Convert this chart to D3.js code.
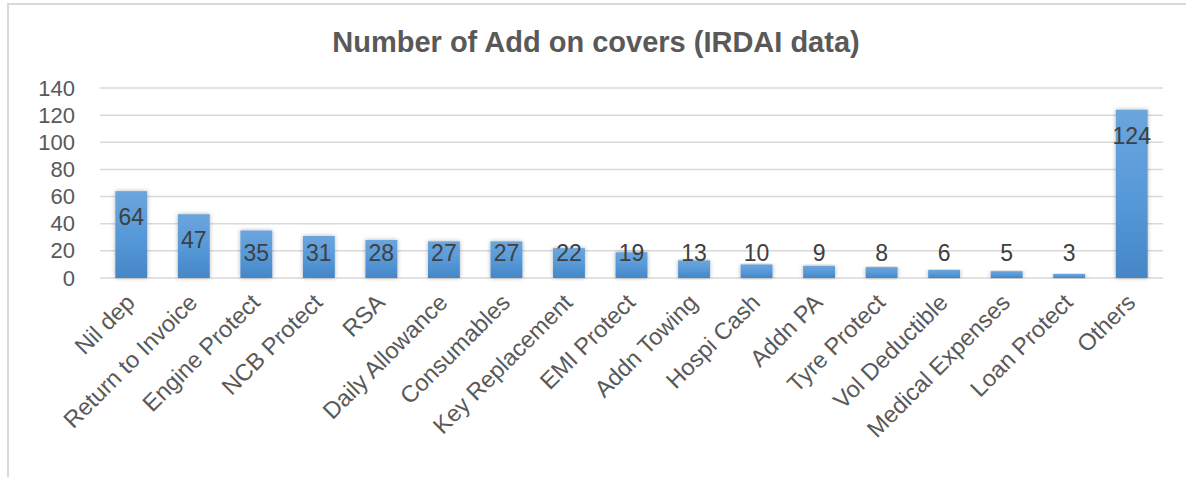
<!DOCTYPE html>
<html>
<head>
<meta charset="utf-8">
<script src="https://cdn.jsdelivr.net/npm/d3@7"></script>
<style>
  body { margin: 0; background: #fff; }
  svg { display: block; font-family: "Liberation Sans", Arial, sans-serif; }
</style>
</head>
<body>
<div id="chart"></div>
<script>
// Data
const covers = ['Nil dep', 'Return to Invoice', 'Engine Protect', 'NCB Protect', 'RSA',
  'Daily Allowance', 'Consumables', 'Key Replacement', 'EMI Protect', 'Addn Towing',
  'Hospi Cash', 'Addn PA', 'Tyre Protect', 'Vol Deductible', 'Medical Expenses',
  'Loan Protect', 'Others'];
const counts = [64, 47, 35, 31, 28, 27, 27, 22, 19, 13, 10, 9, 8, 6, 5, 3, 124];
const yTicks = [0, 20, 40, 60, 80, 100, 120, 140];

const width = 1186;
const height = 477;
const margin = { top: 88, right: 23, bottom: 199, left: 100 };

const svg = d3.select('#chart')
  .append('svg')
  .attr('width', width)
  .attr('height', height);

// Chart border (top + left visible)
svg.append('path')
  .attr('d', `M${width},4 H8 V${height}`)
  .attr('fill', 'none')
  .attr('stroke', '#d9d9d9')
  .attr('stroke-width', 2);

// Gradient + shadow for the bars
const defs = svg.append('defs');
const grad = defs.append('linearGradient')
  .attr('id', 'barGrad')
  .attr('x1', 0).attr('y1', 0).attr('x2', 0).attr('y2', 1);
grad.append('stop').attr('offset', '0%').attr('stop-color', '#6ca5dd');
grad.append('stop').attr('offset', '50%').attr('stop-color', '#579ad9');
grad.append('stop').attr('offset', '100%').attr('stop-color', '#4586c7');

const shadow = defs.append('filter')
  .attr('id', 'shadow')
  .attr('x', '-30%').attr('y', '-10%').attr('width', '160%').attr('height', '120%');
shadow.append('feDropShadow')
  .attr('dx', 0).attr('dy', 0).attr('stdDeviation', 2)
  .attr('flood-color', '#000').attr('flood-opacity', 0.3);

const xScale = d3.scaleBand()
  .domain(covers)
  .range([margin.left, width - margin.right])
  .paddingInner(0.49)
  .paddingOuter(0.245);

const yScale = d3.scaleLinear()
  .domain([0, 140])
  .range([height - margin.bottom, margin.top]);

// Gridlines
svg.append('g')
  .attr('class', 'gridlines')
  .selectAll('line')
  .data(yTicks)
  .join('line')
  .attr('x1', margin.left)
  .attr('x2', width - margin.right)
  .attr('y1', d => yScale(d))
  .attr('y2', d => yScale(d))
  .attr('stroke', '#d9d9d9')
  .attr('stroke-width', 1.5);

// Y axis labels
const yAxis = d3.axisLeft(yScale).tickValues(yTicks).tickSize(0).tickPadding(25);
const yG = svg.append('g')
  .attr('transform', `translate(${margin.left}, 0)`)
  .call(yAxis);
yG.select('.domain').remove();
yG.selectAll('text')
  .attr('font-size', 22)
  .attr('font-family', '"Liberation Sans", Arial, sans-serif')
  .attr('fill', '#595959');

// Bars
svg.append('g')
  .selectAll('rect')
  .data(counts)
  .join('rect')
  .attr('x', (d, i) => xScale(covers[i]))
  .attr('y', d => yScale(d))
  .attr('width', xScale.bandwidth())
  .attr('height', d => yScale(0) - yScale(d))
  .attr('fill', 'url(#barGrad)')
  .attr('filter', 'url(#shadow)');

// Value labels
svg.append('g')
  .selectAll('text')
  .data(counts)
  .join('text')
  .attr('x', (d, i) => xScale(covers[i]) + xScale.bandwidth() / 2)
  .attr('y', d => Math.min(yScale(d) + 26, yScale(0) - 25))
  .attr('dy', '0.35em')
  .attr('text-anchor', 'middle')
  .attr('font-size', 23)
  .attr('fill', '#404040')
  .text(d => d);

// X axis labels
const xAxis = d3.axisBottom(xScale).tickSize(0).tickPadding(0);
const xG = svg.append('g')
  .attr('transform', `translate(0, ${yScale(0)})`)
  .call(xAxis);
xG.select('.domain').remove();
xG.selectAll('text')
  .attr('font-size', 23.5)
  .attr('font-family', '"Liberation Sans", Arial, sans-serif')
  .attr('fill', '#595959')
  .attr('text-anchor', 'end')
  .attr('dy', null)
  .attr('y', 0)
  .attr('transform', 'translate(5, 26) rotate(-45)');

// Title
svg.append('text')
  .attr('x', 596)
  .attr('y', 52)
  .attr('text-anchor', 'middle')
  .attr('font-size', 29)
  .attr('font-weight', 'bold')
  .attr('fill', '#595959')
  .text('Number of Add on covers (IRDAI data)');
</script>
</body>
</html>
